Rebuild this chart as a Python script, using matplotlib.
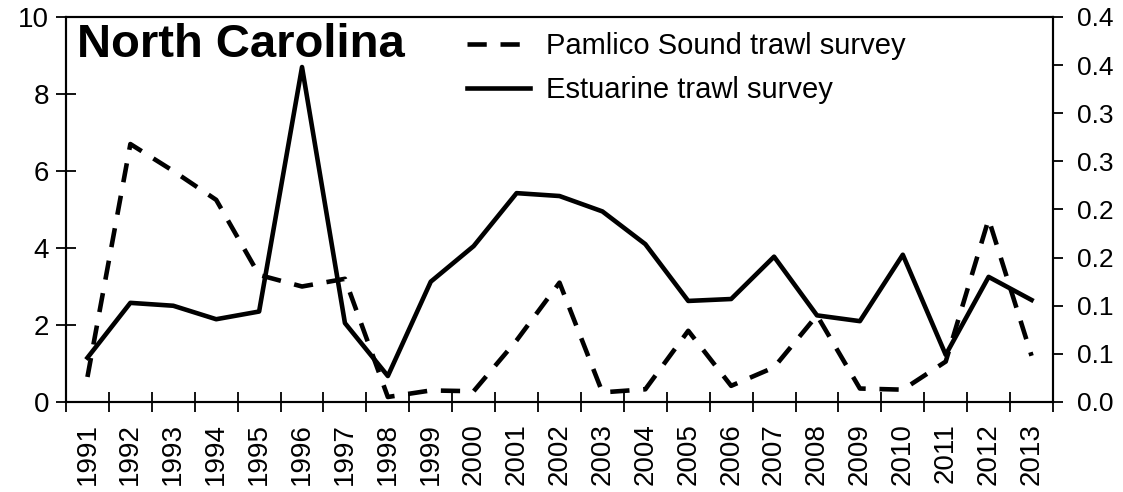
import numpy as np
import matplotlib
matplotlib.use("Agg")
import matplotlib.pyplot as plt

plt.rcParams['font.family'] = ['Liberation Sans', 'DejaVu Sans']

years = [str(y) for y in range(1991, 2014)]

# Pamlico Sound trawl survey (left axis)
pamlico = [0.65, 6.7, 6.0, 5.25, 3.3, 3.0, 3.2, 0.13, 0.3, 0.28, 1.6, 3.1,
           0.25, 0.33, 1.85, 0.42, 0.9, 2.25, 0.35, 0.32, 1.05, 4.75, 1.2]

# Estuarine trawl survey (right axis)
estuarine = [0.046, 0.103, 0.100, 0.086, 0.094, 0.348, 0.082, 0.027, 0.125,
             0.162, 0.217, 0.214, 0.198, 0.164, 0.105, 0.107, 0.151, 0.090,
             0.084, 0.153, 0.049, 0.130, 0.106]

left_ticks = [0, 2, 4, 6, 8, 10]
right_ticks = [0, 0.05, 0.1, 0.15, 0.2, 0.25, 0.3, 0.35, 0.4]
right_labels = ["0.0", "0.1", "0.1", "0.2", "0.2", "0.3", "0.3", "0.4", "0.4"]

W, H = 1123, 492
fig = plt.figure(figsize=(W / 100, H / 100), dpi=100)
ax = fig.add_axes([66 / W, 1 - 402 / H, (1053 - 66) / W, (402 - 17) / H])
ax2 = ax.twinx()

x = np.arange(len(years))
lw = 3.3
l1, = ax.plot(x, pamlico, color='black', lw=lw, dashes=(4.2, 3),
              label='Pamlico Sound trawl survey')
l2, = ax2.plot(x, estuarine, color='black', lw=lw,
               label='Estuarine trawl survey')

ax.set_xlim(-0.5, len(years) - 0.5)
ax.set_ylim(0, 10)
ax2.set_ylim(0, 0.4)

# category boundaries as ticks, labels at centres
ax.set_xticks(np.arange(len(years) + 1) - 0.5)
ax.set_xticklabels([])
ax.set_xticks(x, minor=True)
ax.set_xticklabels(years, minor=True, rotation=90, fontsize=20)
ax.tick_params(axis='x', which='major', direction='inout', length=14, width=1.3)
ax.tick_params(axis='x', which='minor', length=0, pad=15)

ax.set_yticks(left_ticks)
ax.tick_params(axis='y', direction='inout', length=14, width=1.3,
               labelsize=20, pad=5)

ax2.set_yticks(right_ticks)
ax2.set_yticklabels(right_labels)
ax2.tick_params(axis='y', direction='out', length=7, width=1.3,
                labelsize=19, pad=10)

for a in (ax, ax2):
    for s in a.spines.values():
        s.set_linewidth(1.5)

ax.text(0.011, 0.985, 'North Carolina', transform=ax.transAxes,
        fontsize=34, fontweight='bold', va='top', ha='left')

ax.legend(handles=[l1, l2], loc='upper left', bbox_to_anchor=(467 / W, 1 - 32 / H),
          bbox_transform=fig.transFigure, frameon=False, fontsize=21,
          handlelength=2.15, handletextpad=0.55, labelspacing=0.55,
          borderaxespad=0, borderpad=0)

fig.savefig('out.png', dpi=100)
